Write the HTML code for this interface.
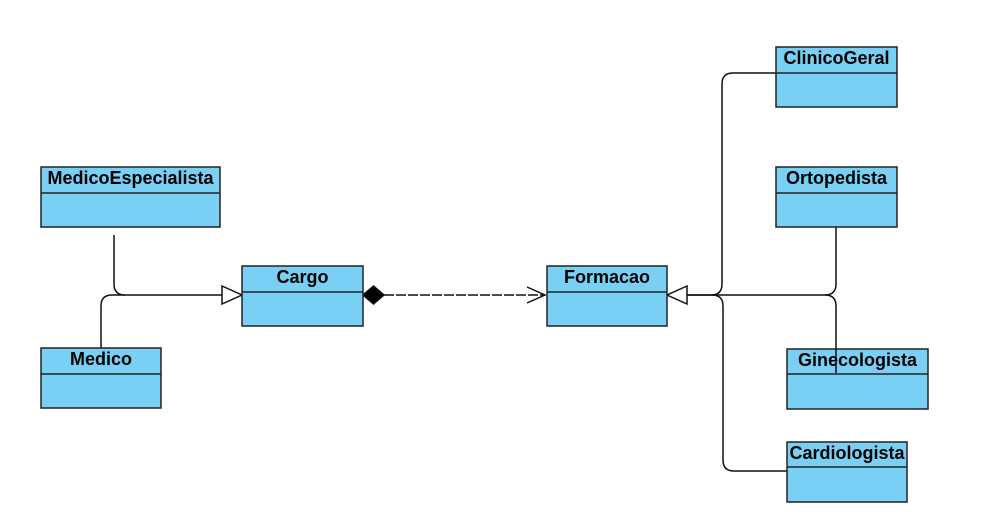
<!DOCTYPE html>
<html><head><meta charset="utf-8"><style>
html,body{margin:0;padding:0;background:#fff;width:997px;height:516px;overflow:hidden}
text{font-family:"Liberation Sans",Arial,sans-serif;font-weight:bold;font-size:18px;fill:#000}
</style></head><body>
<svg width="997" height="516" viewBox="0 0 997 516" xmlns="http://www.w3.org/2000/svg">
<g fill="none" stroke="#111" stroke-width="1.5">
<path d="M114 235 V284 Q114 295 125 295 H222"/>
<path d="M101 348 V306 Q101 295 112 295 H125"/>
<path d="M222 286 L242 295 L222 304 Z" fill="#fff"/>
<path d="M384 295 H545" stroke-dasharray="10 2"/>
<path d="M527 287 L545 295 L527 303"/>
<path d="M363 295 L373.5 286 L384 295 L373.5 304 Z" fill="#000"/>
<path d="M687 295 H825"/>
<path d="M776 73 H733 Q722 73 722 84 V284 Q722 295 711 295 H687"/>
<path d="M787 471 H734 Q723 471 723 460 V306 Q723 295 712 295"/>
<path d="M836 227 V284 Q836 295 825 295"/>
<path d="M825 295 Q836 295 836 306 V373"/>
<path d="M687 286 L667 295 L687 304 Z" fill="#fff"/>
</g>
<g fill="#7ad0f4" stroke="#222" stroke-width="1.5">
<rect x="41" y="167" width="179" height="60"/><line x1="41" y1="193" x2="220" y2="193"/>
<rect x="41" y="348" width="120" height="60"/><line x1="41" y1="374" x2="161" y2="374"/>
<rect x="242" y="266" width="121" height="60"/><line x1="242" y1="292" x2="363" y2="292"/>
<rect x="547" y="266" width="120" height="60"/><line x1="547" y1="292" x2="667" y2="292"/>
<rect x="776" y="47" width="121" height="60"/><line x1="776" y1="73" x2="897" y2="73"/>
<rect x="776" y="167" width="121" height="60"/><line x1="776" y1="193" x2="897" y2="193"/>
<rect x="787" y="349" width="141" height="60"/><line x1="787" y1="374" x2="928" y2="374"/>
<rect x="787" y="442" width="120" height="60"/><line x1="787" y1="467" x2="907" y2="467"/>
</g>
<path d="M836 349 V373" stroke="#111" stroke-width="1.5"/>
<text x="130.5" y="184" text-anchor="middle">MedicoEspecialista</text>
<text x="101" y="365" text-anchor="middle">Medico</text>
<text x="302.5" y="283" text-anchor="middle">Cargo</text>
<text x="607" y="283" text-anchor="middle">Formacao</text>
<text x="836.5" y="64" text-anchor="middle">ClinicoGeral</text>
<text x="836.5" y="184" text-anchor="middle">Ortopedista</text>
<text x="857.5" y="366" text-anchor="middle">Ginecologista</text>
<text x="847" y="459" text-anchor="middle">Cardiologista</text>
</svg>
</body></html>
